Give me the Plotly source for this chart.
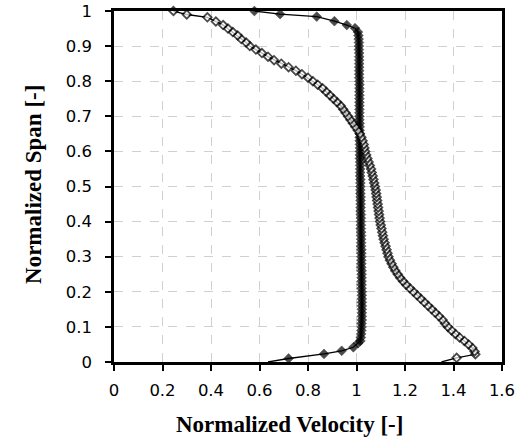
import plotly.graph_objects as go

# Filled-diamond series (solid markers)
filled_y = [0.0, 0.01, 0.023, 0.032, 0.042, 0.054,
            0.06, 0.07, 0.08, 0.09, 0.10, 0.11, 0.12, 0.13, 0.14, 0.15,
            0.16, 0.17, 0.18, 0.19, 0.20, 0.21, 0.22, 0.23, 0.24, 0.25,
            0.26, 0.27, 0.28, 0.29, 0.30, 0.31, 0.32, 0.33, 0.34, 0.35,
            0.36, 0.37, 0.38, 0.39, 0.40, 0.41, 0.42, 0.43, 0.44, 0.45,
            0.46, 0.47, 0.48, 0.49, 0.50, 0.51, 0.52, 0.53, 0.54, 0.55,
            0.56, 0.57, 0.58, 0.59, 0.60, 0.61, 0.62, 0.63, 0.64, 0.65,
            0.66, 0.67, 0.68, 0.69, 0.70, 0.71, 0.72, 0.73, 0.74, 0.75,
            0.76, 0.77, 0.78, 0.79, 0.80, 0.81, 0.82, 0.83, 0.84, 0.85,
            0.86, 0.87, 0.88, 0.89, 0.90, 0.91, 0.92, 0.93, 0.94,
            0.951, 0.96, 0.971, 0.984, 0.991, 1.0]
filled_x = [0.635, 0.72, 0.866, 0.939, 0.987, 1.007,
            1.016, 1.018, 1.019, 1.02, 1.021, 1.021, 1.022, 1.022, 1.022, 1.022,
            1.022, 1.022, 1.022, 1.022, 1.022, 1.021, 1.021, 1.021, 1.021, 1.021,
            1.021, 1.02, 1.02, 1.02, 1.02, 1.02, 1.02, 1.019, 1.019, 1.019,
            1.019, 1.019, 1.018, 1.018, 1.018, 1.018, 1.018, 1.017, 1.017, 1.017,
            1.017, 1.017, 1.016, 1.016, 1.016, 1.016, 1.016, 1.015, 1.015, 1.015,
            1.015, 1.015, 1.014, 1.014, 1.014, 1.014, 1.014, 1.013, 1.013, 1.013,
            1.013, 1.013, 1.013, 1.012, 1.012, 1.012, 1.012, 1.012, 1.012, 1.012,
            1.012, 1.012, 1.012, 1.012, 1.012, 1.011, 1.011, 1.011, 1.011, 1.011,
            1.011, 1.011, 1.011, 1.01, 1.01, 1.01, 1.009, 1.008, 1.006,
            0.994, 0.96, 0.909, 0.836, 0.685, 0.579]

# Open-diamond series (hollow markers)
open_y = [0.0, 0.012, 0.022, 0.03, 0.04, 0.05, 0.06, 0.07, 0.08, 0.09,
          0.10, 0.11, 0.12, 0.13, 0.14, 0.15, 0.16, 0.17, 0.18, 0.19,
          0.20, 0.21, 0.22, 0.23, 0.24, 0.25, 0.26, 0.27, 0.28, 0.29,
          0.30, 0.31, 0.32, 0.33, 0.34, 0.35, 0.36, 0.37, 0.38, 0.39,
          0.40, 0.41, 0.42, 0.43, 0.44, 0.45, 0.46, 0.47, 0.48, 0.49,
          0.50, 0.51, 0.52, 0.53, 0.54, 0.55, 0.56, 0.57, 0.58, 0.59,
          0.60, 0.61, 0.62, 0.63, 0.64, 0.65, 0.66, 0.67, 0.68, 0.69,
          0.70, 0.71, 0.72, 0.73, 0.74, 0.75, 0.76, 0.77, 0.78, 0.79,
          0.80, 0.81, 0.82, 0.83, 0.84, 0.85, 0.86, 0.87, 0.88, 0.89,
          0.90, 0.91, 0.92, 0.93, 0.94, 0.95, 0.96, 0.97, 0.982, 0.99, 1.0]
open_x = [1.35, 1.413, 1.49, 1.487, 1.478, 1.462, 1.445, 1.425, 1.408, 1.392,
          1.377, 1.365, 1.355, 1.34, 1.325, 1.31, 1.295, 1.28, 1.265, 1.25,
          1.235, 1.22, 1.205, 1.192, 1.18, 1.17, 1.16, 1.152, 1.145, 1.138,
          1.132, 1.128, 1.124, 1.12, 1.116, 1.112, 1.109, 1.106, 1.103, 1.1,
          1.097, 1.095, 1.093, 1.091, 1.089, 1.087, 1.085, 1.083, 1.081, 1.079,
          1.076, 1.073, 1.07, 1.067, 1.063, 1.06, 1.055, 1.05, 1.045, 1.04,
          1.036, 1.033, 1.03, 1.025, 1.02, 1.014, 1.005, 0.995, 0.985, 0.975,
          0.965, 0.955, 0.945, 0.935, 0.92, 0.905, 0.89, 0.875, 0.86, 0.84,
          0.82, 0.80, 0.775, 0.75, 0.72, 0.69, 0.66, 0.635, 0.61, 0.585,
          0.56, 0.545, 0.525, 0.51, 0.49, 0.47, 0.45, 0.42, 0.385, 0.30, 0.245]

x_ticks = [0, 0.2, 0.4, 0.6, 0.8, 1, 1.2, 1.4, 1.6]
x_tick_labels = ["0", "0.2", "0.4", "0.6", "0.8", "1", "1.2", "1.4", "1.6"]
y_ticks = [0, 0.1, 0.2, 0.3, 0.4, 0.5, 0.6, 0.7, 0.8, 0.9, 1]
y_tick_labels = ["0", "0.1", "0.2", "0.3", "0.4", "0.5", "0.6", "0.7", "0.8", "0.9", "1"]

x_title = "Normalized Velocity [-]"
y_title = "Normalized Span [-]"

filled_sizes = [0] + [7.5] * (len(filled_x) - 1)
open_sizes = [0] + [6.5] * (len(open_x) - 1)

fig = go.Figure()
fig.add_trace(go.Scatter(
    x=filled_x, y=filled_y, mode="lines+markers",
    line=dict(color="black", width=1.3),
    marker=dict(symbol="diamond", size=filled_sizes, color="black",
                line=dict(color="black", width=0.6)),
    cliponaxis=False, showlegend=False))
fig.add_trace(go.Scatter(
    x=open_x, y=open_y, mode="lines+markers",
    line=dict(color="black", width=1.3),
    marker=dict(symbol="diamond", size=open_sizes, color="white",
                line=dict(color="black", width=1.8)),
    cliponaxis=False, showlegend=False))

tick_font = dict(family="DejaVu Sans", size=16.5, color="black")
title_font = dict(family="Liberation Serif", size=23, color="black")

fig.update_layout(
    width=519, height=441,
    margin=dict(l=114, r=17, t=11, b=79, autoexpand=False),
    paper_bgcolor="white", plot_bgcolor="white",
    xaxis=dict(
        range=[0, 1.6], tickvals=x_ticks, ticktext=x_tick_labels,
        showgrid=True, gridcolor="#d0d0d0", griddash="dash", gridwidth=1,
        showline=True, linecolor="black", linewidth=2.5, mirror=True,
        ticks="outside", ticklen=6, tickwidth=2, tickcolor="black",
        tickfont=tick_font, zeroline=False, ticklabelstandoff=5,
        automargin=False,
    ),
    yaxis=dict(
        range=[0, 1], tickvals=y_ticks, ticktext=y_tick_labels,
        showgrid=True, gridcolor="#d0d0d0", griddash="dash", gridwidth=1,
        showline=True, linecolor="black", linewidth=2.5, mirror=True,
        ticks="outside", ticklen=6, tickwidth=2, tickcolor="black",
        tickfont=tick_font, zeroline=False, ticklabelstandoff=10,
        automargin=False,
    ),
    annotations=[
        dict(text="<b>" + x_title + "</b>", xref="paper", yref="paper",
             x=0.4536, y=-0.179, xanchor="center", yanchor="middle",
             showarrow=False, font=title_font),
        dict(text="<b>" + y_title + "</b>", xref="paper", yref="paper",
             x=-0.209, y=0.507, xanchor="center", yanchor="middle",
             textangle=-90, showarrow=False, font=title_font),
    ],
)

fig.write_html("out.html")
